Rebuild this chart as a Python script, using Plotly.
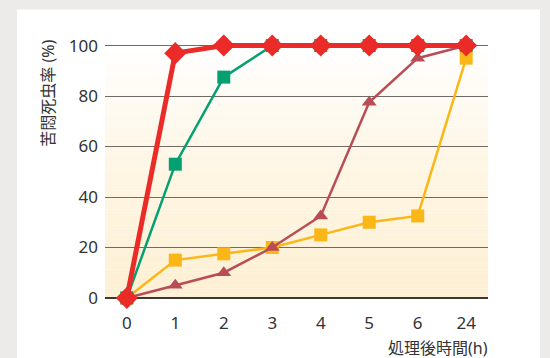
import plotly.graph_objects as go

# Elapsed time after treatment (h) and agony-death rate (%) per series
hours = ["0", "1", "2", "3", "4", "5", "6", "24"]
series_red = [0, 97, 100, 100, 100, 100, 100, 100]
series_green = [0, 53, 87.5, 100, 100, 100, 100, 100]
series_brown = [0, 5, 10, 20, 32.5, 77.5, 95, 100]
series_yellow = [0, 15, 17.5, 20, 25, 30, 32.5, 95]
y_ticks = [0, 20, 40, 60, 80, 100]

x_idx = list(range(len(hours)))
x_lo, x_hi = -0.45, len(hours) - 1 + 0.45
y_lo, y_hi = -1.2, 102.2

fig = go.Figure()

def add_series(vals, color, symbol, lw, ms):
    fig.add_trace(go.Scatter(
        x=x_idx, y=vals, mode="lines+markers",
        line=dict(color=color, width=lw),
        marker=dict(color=color, symbol=symbol, size=ms, line=dict(width=0)),
        cliponaxis=False, showlegend=False,
    ))

add_series(series_yellow, "#fbb617", "square", 2.5, 13)
add_series(series_brown, "#b94d55", "triangle-up", 2.5, 13)
add_series(series_green, "#05a072", "square", 2.5, 13)
add_series(series_red, "#ea2b27", "diamond", 5, 17)

font_family = "Noto Sans, Noto Sans CJK JP, sans-serif"

fig.update_xaxes(
    range=[x_lo, x_hi], tickmode="array", tickvals=x_idx, ticktext=hours,
    showgrid=False, zeroline=False, showline=False, ticks="",
    ticklabelstandoff=10,
    tickfont=dict(size=17, color="#333333", family=font_family),
)
fig.update_yaxes(
    range=[y_lo, y_hi], tickmode="array", tickvals=y_ticks,
    showgrid=True, gridcolor="#6e6a66", gridwidth=1.3,
    zeroline=True, zerolinecolor="#3a3734", zerolinewidth=1.6,
    showline=False, ticks="", ticklabelstandoff=6,
    tickfont=dict(size=17, color="#333333", family=font_family),
)

# pixel scale: value 0 at y=298 px, value 100 at y=46 px
px_per_unit = 2.52
top_m = 46 - (y_hi - 100) * px_per_unit
bot_m = 358 - (298 - y_lo * px_per_unit)
plot_h = 358 - top_m - bot_m

def py(pix):
    # convert a pixel row to paper coordinates
    return (358 - bot_m - pix) / plot_h

def px(pix):
    return (pix - 105) / 383

# white card behind the chart
shapes = [dict(type="rect", xref="paper", yref="paper",
               x0=px(17), x1=px(540), y0=py(370), y1=py(10),
               fillcolor="#ffffff", line=dict(width=0), layer="below")]

# vertical background fade inside the plot area (cream at 0, white at 100)
stops = [(0.0, (253, 239, 210)), (0.55, (254, 246, 229)), (1.0, (255, 255, 255))]

def fade(t):
    for (t0, c0), (t1, c1) in zip(stops, stops[1:]):
        if t <= t1:
            f = (t - t0) / (t1 - t0)
            return "rgb(%d,%d,%d)" % tuple(round(a + (b - a) * f) for a, b in zip(c0, c1))
    return "rgb(255,255,255)"

n_bands = 80
for i in range(n_bands):
    y0 = 100 * i / n_bands
    y1 = 100 * (i + 1) / n_bands
    shapes.append(dict(type="rect", xref="x", yref="y",
                       x0=x_lo, x1=x_hi, y0=y0, y1=y1 + 0.05,
                       fillcolor=fade((i + 0.5) / n_bands),
                       line=dict(width=0), layer="below"))

fig.update_layout(
    width=550, height=358,
    margin=dict(l=105, r=62, t=top_m, b=bot_m, autoexpand=False),
    paper_bgcolor="#ecebe9", plot_bgcolor="rgba(0,0,0,0)",
    shapes=shapes,
    annotations=[
        dict(text="苦悶死虫率 (%)", xref="paper", yref="paper",
             x=px(48), y=py(94), xanchor="center", yanchor="middle",
             textangle=-90, showarrow=False,
             font=dict(size=16, color="#333333", family=font_family)),
        dict(text="処理後時間(h)", xref="paper", yref="paper",
             x=px(490), y=py(348), xanchor="right", yanchor="middle",
             showarrow=False,
             font=dict(size=16, color="#333333", family=font_family)),
    ],
)

fig.write_html("out.html")
